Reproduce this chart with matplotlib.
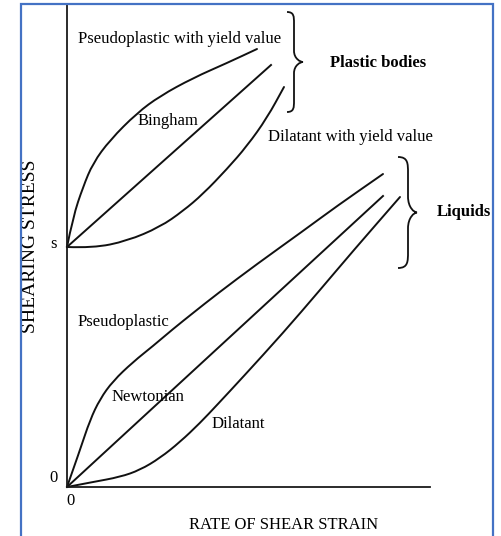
import matplotlib
matplotlib.use("Agg")
import matplotlib.pyplot as plt
from matplotlib.path import Path
from matplotlib.patches import PathPatch, Rectangle

plt.rcParams['font.family'] = ['Liberation Serif', 'DejaVu Serif']

# Plastic bodies (start at yield value s)
yield_value = 24.0
pyv_x = [0, 0.6, 1.6, 2.6, 4.3, 7.0, 9.3, 12.6, 16.0, 19.0]
pyv_y = [24.0, 27.0, 30.0, 32.4, 34.7, 37.4, 39.1, 40.9, 42.4, 43.8]
bingham_x = [0, 20.4]
bingham_y = [24.0, 42.2]
dyv_x = [0, 2.6, 6.0, 9.3, 11.6, 13.6, 16.0, 18.0, 20.0, 21.7]
dyv_y = [24.0, 23.9, 24.6, 26.0, 27.6, 29.3, 31.8, 34.1, 36.9, 40.0]

# Liquids
pseudo_x = [0, 1.3, 2.3, 3.3, 4.6, 6.6, 8.6, 10.6, 12.6, 15.0, 19.0, 23.6, 27.0, 31.6]
pseudo_y = [0, 3.7, 6.7, 8.8, 10.6, 12.5, 14.1, 15.8, 17.4, 19.3, 22.3, 25.6, 28.1, 31.3]
newton_x = [0, 31.6]
newton_y = [0, 29.1]
dil_x = [0, 2.6, 5.3, 7.3, 9.3, 11.3, 13.3, 15.0, 17.6, 21.6, 25.3, 28.6, 33.3]
dil_y = [0, 0.5, 1.0, 1.7, 2.9, 4.5, 6.4, 8.2, 11.0, 15.4, 19.7, 23.6, 29.0]

fig = plt.figure(figsize=(5.02, 5.36), dpi=100)
ax = fig.add_axes([67 / 502, 49 / 536, 363 / 502, 482 / 536])
ax.set_xlim(0, 36.3)
ax.set_ylim(0, 48.2)
for side in ['top', 'right']:
    ax.spines[side].set_visible(False)
for side in ['left', 'bottom']:
    ax.spines[side].set_linewidth(1.3)
    ax.spines[side].set_color('#1a1a1a')
ax.set_xticks([])
ax.set_yticks([])
ax.patch.set_visible(False)

lw = 1.4
col = '#111111'


def smooth_curve(ax, xs, ys):
    # quadratic bezier through the midpoints, read points act as controls
    pts = list(zip(xs, ys))
    verts = [pts[0]]
    codes = [Path.MOVETO]
    for i in range(1, len(pts) - 1):
        mid = ((pts[i][0] + pts[i + 1][0]) / 2, (pts[i][1] + pts[i + 1][1]) / 2)
        verts += [pts[i], mid]
        codes += [Path.CURVE3, Path.CURVE3]
    verts.append(pts[-1])
    codes.append(Path.LINETO)
    ax.add_patch(PathPatch(Path(verts, codes), fill=False, edgecolor=col,
                           lw=lw, capstyle='round', clip_on=False))


for xs, ys in [(pyv_x, pyv_y), (dyv_x, dyv_y), (pseudo_x, pseudo_y), (dil_x, dil_y)]:
    smooth_curve(ax, xs, ys)
for xs, ys in [(bingham_x, bingham_y), (newton_x, newton_y)]:
    ax.plot(xs, ys, color=col, lw=lw, clip_on=False)


def brace(ax, x0, xs, xtip, top, bottom):
    mid = (top + bottom) / 2
    h = (xs - x0) * 1.6
    verts = [(x0, top),
             (xs, top), (xs, top - h * 0.4), (xs, top - h),
             (xs, mid + h),
             (xs, mid + h * 0.3), (xtip - (xtip - xs) * 0.3, mid), (xtip, mid),
             (xtip - (xtip - xs) * 0.3, mid), (xs, mid - h * 0.3), (xs, mid - h),
             (xs, bottom + h),
             (xs, bottom + h * 0.4), (xs, bottom), (x0, bottom)]
    codes = [Path.MOVETO,
             Path.CURVE4, Path.CURVE4, Path.CURVE4,
             Path.LINETO,
             Path.CURVE4, Path.CURVE4, Path.CURVE4,
             Path.CURVE4, Path.CURVE4, Path.CURVE4,
             Path.LINETO,
             Path.CURVE4, Path.CURVE4, Path.CURVE4]
    ax.add_patch(PathPatch(Path(verts, codes), fill=False, edgecolor=col,
                           lw=1.3, clip_on=False))


brace(ax, 22.0, 22.7, 23.6, 47.5, 37.5)
brace(ax, 33.1, 34.1, 35.0, 33.0, 21.9)

fs = 12
ax.text(1.1, 44.8, 'Pseudoplastic with yield value', fontsize=fs, va='center')
ax.text(7.1, 36.6, 'Bingham', fontsize=fs, va='center')
ax.text(20.1, 35.0, 'Dilatant with yield value', fontsize=fs, va='center')
ax.text(26.3, 42.4, 'Plastic bodies', fontsize=fs, fontweight='bold', va='center')
ax.text(37.0, 27.5, 'Liquids', fontsize=fs, fontweight='bold', va='center')
ax.text(1.1, 16.5, 'Pseudoplastic', fontsize=fs, va='center')
ax.text(4.5, 9.0, 'Newtonian', fontsize=fs, va='center')
ax.text(14.5, 6.3, 'Dilatant', fontsize=fs, va='center')

ax.text(-1.3, yield_value + 0.3, 's', fontsize=fs, ha='center', va='center')
ax.text(-1.3, 0.9, '0', fontsize=fs, ha='center', va='center')
ax.text(0.4, -1.4, '0', fontsize=fs, ha='center', va='center')
ax.text(21.7, -3.8, 'RATE OF SHEAR STRAIN', fontsize=fs, ha='center', va='center')
ax.text(-3.6, 24.1, 'SHEARING STRESS', fontsize=14, ha='center', va='center',
        rotation=90)

# blue frame
fig.patches.append(Rectangle((21 / 502, -0.02), (493 - 21) / 502, 1 - 4 / 536 + 0.02,
                             transform=fig.transFigure, fill=False,
                             edgecolor='#4472C4', lw=1.6))

fig.savefig('out.png', dpi=100)
